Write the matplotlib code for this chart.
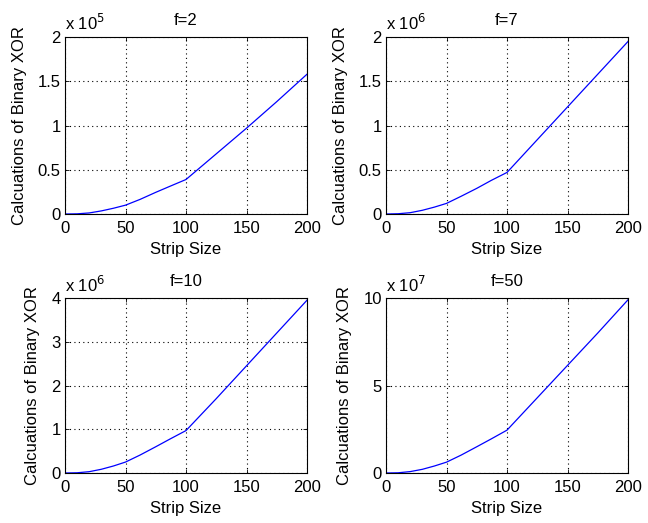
import matplotlib
matplotlib.use("Agg")
import matplotlib.pyplot as plt
import numpy as np

plt.rcParams['font.family'] = ['Liberation Sans', 'DejaVu Sans']
plt.rcParams['font.size'] = 12

strip = [0, 10, 20, 30, 40, 50, 62, 75, 87, 100, 125, 150, 175, 200]

# values (in units of each panel's multiplier)
f2 = [0, 0.002, 0.012, 0.035, 0.065, 0.10, 0.165, 0.245, 0.315, 0.39, 0.68, 0.97, 1.27, 1.58]
f7 = [0, 0.003, 0.015, 0.042, 0.078, 0.12, 0.20, 0.29, 0.38, 0.47, 0.84, 1.21, 1.58, 1.95]
f10 = [0, 0.005, 0.03, 0.085, 0.16, 0.25, 0.41, 0.60, 0.78, 0.97, 1.70, 2.45, 3.20, 3.95]
f50 = [0, 0.012, 0.08, 0.21, 0.40, 0.62, 1.02, 1.5, 1.95, 2.45, 4.3, 6.15, 8.0, 9.9]

titles = ['f=2', 'f=7', 'f=10', 'f=50']
exps = [5, 6, 6, 7]
ymaxs = [2, 2, 4, 10]
series = [f2, f7, f10, f50]

yticks = [[0, 0.5, 1, 1.5, 2], [0, 0.5, 1, 1.5, 2], [0, 1, 2, 3, 4], [0, 5, 10]]
ytl = [['0', '0.5', '1', '1.5', '2'], ['0', '0.5', '1', '1.5', '2'],
       ['0', '1', '2', '3', '4'], ['0', '5', '10']]

pos = [[0.1003, 0.5908, 0.3735, 0.3384],
       [0.5957, 0.5908, 0.3735, 0.3384],
       [0.1003, 0.0956, 0.3735, 0.3346],
       [0.5957, 0.0956, 0.3735, 0.3346]]

fig = plt.figure(figsize=(6.48, 5.23), dpi=100)

for i in range(4):
    ax = fig.add_axes(pos[i])
    ax.plot(strip, series[i], color='#0000ff', lw=0.9)
    ax.set_xlim(0, 200)
    ax.set_ylim(0, ymaxs[i])
    ax.set_xticks([0, 50, 100, 150, 200])
    ax.set_yticks(yticks[i])
    ax.set_yticklabels(ytl[i])
    ax.grid(True, color='black', linestyle=(0, (1, 3)), lw=0.8)
    ax.tick_params(direction='in', length=3, width=0.6, top=True, right=True,
                   labelsize=12)
    ax.tick_params(axis='x', pad=5)
    ax.tick_params(axis='y', pad=3)
    for s in ax.spines.values():
        s.set_linewidth(0.8)
    ax.set_xlabel('Strip Size', fontsize=12, labelpad=4)
    ax.set_ylabel('Calcuations of Binary XOR', fontsize=12, labelpad=8)
    ax.set_title(titles[i], fontsize=12, pad=9)
    ax.text(0, 1.02, r'x 10$^{%d}$' % exps[i], transform=ax.transAxes,
            fontsize=12, ha='left', va='bottom')

fig.savefig('out.png', dpi=100)
